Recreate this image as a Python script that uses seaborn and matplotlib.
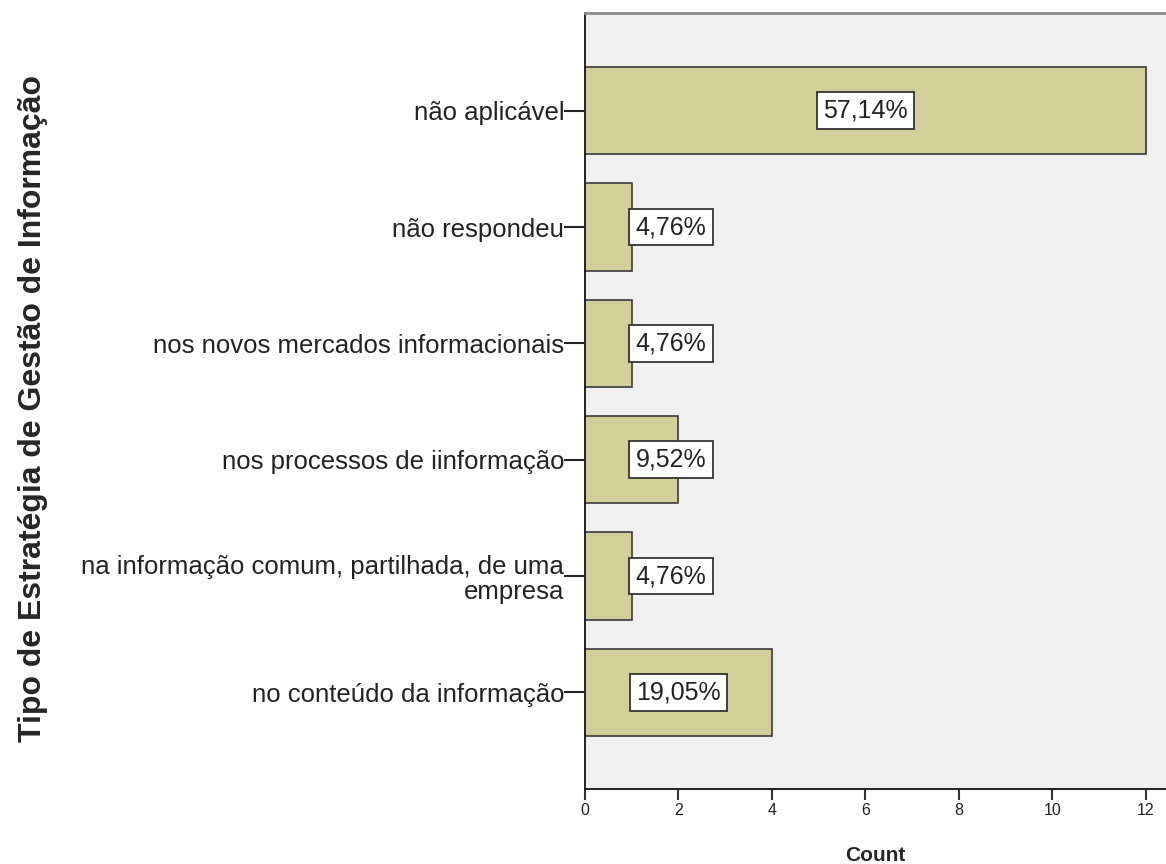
import matplotlib
matplotlib.use("Agg")
import matplotlib.pyplot as plt
import seaborn as sns
import pandas as pd

categories = [
    "não aplicável",
    "não respondeu",
    "nos novos mercados informacionais",
    "nos processos de iinformação",
    "na informação comum, partilhada, de uma\nempresa",
    "no conteúdo da informação",
]
counts = [12, 1, 1, 2, 1, 4]
pct_labels = ["57,14%", "4,76%", "4,76%", "9,52%", "4,76%", "19,05%"]
x_ticks = [0, 2, 4, 6, 8, 10, 12]

sns.set_style("white")
plt.rcParams["font.family"] = ["Liberation Sans", "DejaVu Sans"]

df = pd.DataFrame({"cat": categories, "count": counts})

fig = plt.figure(figsize=(11.66, 8.64), dpi=100)
ax = fig.add_axes([0.5017, 0.0868, 0.4983, 0.8982])
ax.set_facecolor("#f0f0f0")

sns.barplot(data=df, y="cat", x="count", orient="h", color="#d3cf98",
            edgecolor="#3a3a3a", linewidth=1.2, width=0.75, saturation=1,
            ax=ax)

ax.set_xlim(0, 12.43)
ax.set_ylim(5.83, -0.84)
ax.set_xticks(x_ticks)
ax.set_xticklabels([str(t) for t in x_ticks], fontsize=11.5, color="#222222")
ax.tick_params(axis="x", bottom=True, direction="out", length=8, width=1.5,
               color="#333333", pad=2)
ax.tick_params(axis="y", left=True, direction="out", length=15, width=1.5,
               color="#222222", labelsize=18.5, pad=0)
for lab in ax.get_yticklabels():
    lab.set_horizontalalignment("right")
    lab.set_color("#222222")
    lab.set_linespacing(1.1)

for i, (v, t) in enumerate(zip(counts, pct_labels)):
    xc = max(v / 2, 1.84)
    ax.text(xc, i, t, ha="center", va="center", fontsize=18, color="#222222",
            bbox=dict(boxstyle="square,pad=0.25", facecolor="white",
                      edgecolor="#333333", linewidth=1.3))

ax.set_xlabel("Count", fontsize=15, fontweight="bold", labelpad=20)
ax.set_ylabel("Tipo de Estratégia de Gestão de Informação", fontsize=23,
              fontweight="bold")
ax.yaxis.set_label_coords(-0.925, 0.49)

for s in ["left", "bottom"]:
    ax.spines[s].set_color("#222222")
    ax.spines[s].set_linewidth(1.4)
ax.spines["top"].set_color("#8a8a8a")
ax.spines["top"].set_linewidth(2)
ax.spines["right"].set_visible(False)

fig.savefig("out.png", dpi=100, facecolor="white")
